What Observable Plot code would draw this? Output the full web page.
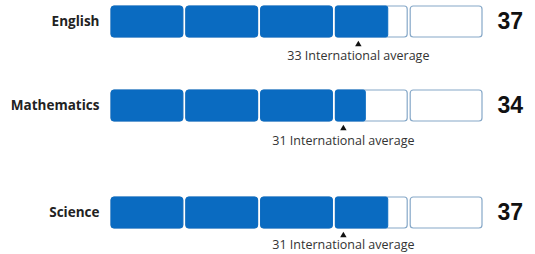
<!DOCTYPE html>
<html>
<head>
<meta charset="utf-8">
<script src="https://cdn.jsdelivr.net/npm/d3@7"></script>
<script src="https://cdn.jsdelivr.net/npm/@observablehq/plot@0.6"></script>
<style>
  html, body { margin: 0; padding: 0; background: #fff; }
  #chart { position: relative; width: 535px; height: 254px; overflow: hidden; }
  #chart > div, #chart > svg { position: absolute; left: 0; }
</style>
</head>
<body>
<div id="chart"></div>
<script>
const subjects = ["English", "Mathematics", "Science"];
const scores = [37, 34, 37];
const intlAvg = [33, 31, 31];
const segmentStarts = [0, 10, 20, 30, 40];
const segmentSize = 10;
const maxScore = 50;

const rowTops = [6, 90, 197];      // layout: top of each row's boxes
const captionDy = [33.5, 34.5, 32]; // layout: caption offset below row centre
const BLUE = "#0a6bc1";
const BORDER = "#86a8c8";
const chart = document.getElementById("chart");

subjects.forEach((subject, k) => {
  const score = scores[k];
  const avg = intlAvg[k];
  const boxes = segmentStarts.map(s => ({subject, x1: s, x2: s + segmentSize}));
  const fullFills = segmentStarts.filter(s => score >= s + segmentSize)
    .map(s => ({subject, x1: s, x2: s + segmentSize}));
  const partFills = segmentStarts.filter(s => score > s && score < s + segmentSize)
    .map(s => ({subject, x1: s, x2: score}));
  const marginTop = 4;
  const svg = Plot.plot({
    width: 535,
    height: 60,
    marginTop,
    marginBottom: 25,
    marginLeft: 111,
    marginRight: 50,
    x: {domain: [0, maxScore], axis: null},
    y: {domain: [subject], axis: null, padding: 0},
    style: {fontFamily: "'Open Sans', sans-serif", background: "transparent", overflow: "visible"},
    marks: [
      Plot.barX(boxes, {x1: "x1", x2: "x2", y: "subject", insetRight: 3, rx: 3, fill: "white", stroke: BORDER, strokeWidth: 1.2}),
      Plot.barX(fullFills, {x1: "x1", x2: "x2", y: "subject", insetRight: 3, rx: 3, fill: BLUE, stroke: BLUE, strokeWidth: 1}),
      Plot.barX(partFills, {x1: "x1", x2: "x2", y: "subject", rx: 2, fill: BLUE, stroke: BLUE, strokeWidth: 1}),
      Plot.dot([{subject, avg}], {x: "avg", y: "subject", symbol: "triangle", r: 2.4, fill: "#111", stroke: null, dy: 22.5}),
      Plot.text([{subject, avg}], {x: "avg", y: "subject", text: d => `${d.avg} International average`, dy: captionDy[k], fontSize: 12.5, fill: "#333"}),
      Plot.text([subject], {y: d => d, text: d => d, frameAnchor: "left", dx: -12, textAnchor: "end", fontSize: 13.5, fontWeight: "bold", fill: "#222"}),
      Plot.text([score], {y: () => subject, text: d => String(d), frameAnchor: "right", dx: 12, textAnchor: "start", fontSize: 23, fontWeight: "bold", fill: "#111", fontFamily: "'Liberation Sans', Arial, sans-serif"})
    ]
  });
  svg.style.top = (rowTops[k] - marginTop) + "px";
  chart.appendChild(svg);
});
</script>
</body>
</html>
